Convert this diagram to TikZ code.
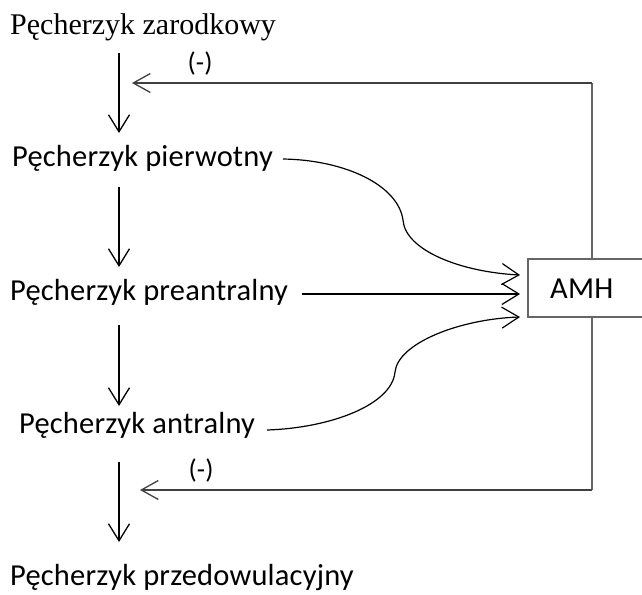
\documentclass[tikz,border=0pt]{standalone}
\usepackage{fontspec}
\setmainfont{Liberation Serif}
\newfontfamily\calib[LetterSpace=0.6]{Carlito}
\usetikzlibrary{arrows.meta}
\begin{document}
\begin{tikzpicture}[x=1pt,y=-1pt,
  lab/.style={inner sep=0pt,anchor=base west,font=\calib\fontsize{30.5}{35}\selectfont},
  neg/.style={inner sep=0pt,font=\calib\fontsize{27}{32}\selectfont},
  arr/.style={line width=1.3pt,black,-{Straight Barb[length=17pt,width=21pt]}},
  fb/.style={line width=2pt,draw=black!60},
  fbarr/.style={line width=2pt,draw=black!75,-{Straight Barb[length=17pt,width=19pt,line width=1.3pt]}}]
\useasboundingbox (0,0) rectangle (642,594);
\fill[white] (0,0) rectangle (642,594);
% text nodes
\node[lab,font=\fontsize{30}{35}\selectfont] (zar) at (10,35) {Pęcherzyk zarodkowy};
\node[lab] (pier) at (12,166) {Pęcherzyk pierwotny};
\node[lab] (pre) at (10,300) {Pęcherzyk preantralny};
\node[lab] (ant) at (19,433) {Pęcherzyk antralny};
\node[lab] (prz) at (10,585) {Pęcherzyk przedowulacyjny};
\node[neg] (m1) at (200,63) {(-)};
\node[neg] (m2) at (201,470) {(-)};
% AMH box
\draw[line width=1.6pt,draw=black!60] (528,259) rectangle (660,317);
\node[lab] (amh) at (550,298) {AMH};
% coordinates
\coordinate (a1s) at (119,53);  \coordinate (a1e) at (119,133);
\coordinate (a2s) at (119,187); \coordinate (a2e) at (119,267);
\coordinate (a3s) at (119,325); \coordinate (a3e) at (119,406);
\coordinate (a4s) at (119,462); \coordinate (a4e) at (119,542);
\coordinate (tr) at (592,83);   \coordinate (tt) at (132,83);
\coordinate (br) at (592,490);  \coordinate (bt) at (140,490);
\coordinate (boxtop) at (592,259); \coordinate (boxbot) at (592,317);
\coordinate (c1s) at (283,159); \coordinate (c1e) at (520,275);
\coordinate (c2s) at (302,294); \coordinate (c2e) at (520,294);
\coordinate (c3s) at (267,430); \coordinate (c3e) at (520,317);
% vertical arrows
\draw[arr] (a1s) -- (a1e);
\draw[arr] (a2s) -- (a2e);
\draw[arr] (a3s) -- (a3e);
\draw[arr] (a4s) -- (a4e);
% feedback
\draw[fb] (boxtop) -- (tr);
\draw[fbarr] (tr) -- (tt);
\draw[fb] (boxbot) -- (br);
\draw[fbarr] (br) -- (bt);
% curves to AMH
\draw[arr,line width=1.2pt] (c1s) .. controls (345,160) and (398,185) .. (403,220)
   .. controls (405,250) and (460,272) .. (c1e);
\draw[arr,line width=1.2pt] (c2s) -- (c2e);
\draw[arr,line width=1.2pt] (c3s) .. controls (330,428) and (392,405) .. (395,372)
   .. controls (398,343) and (460,319) .. (c3e);
\end{tikzpicture}
\end{document}
